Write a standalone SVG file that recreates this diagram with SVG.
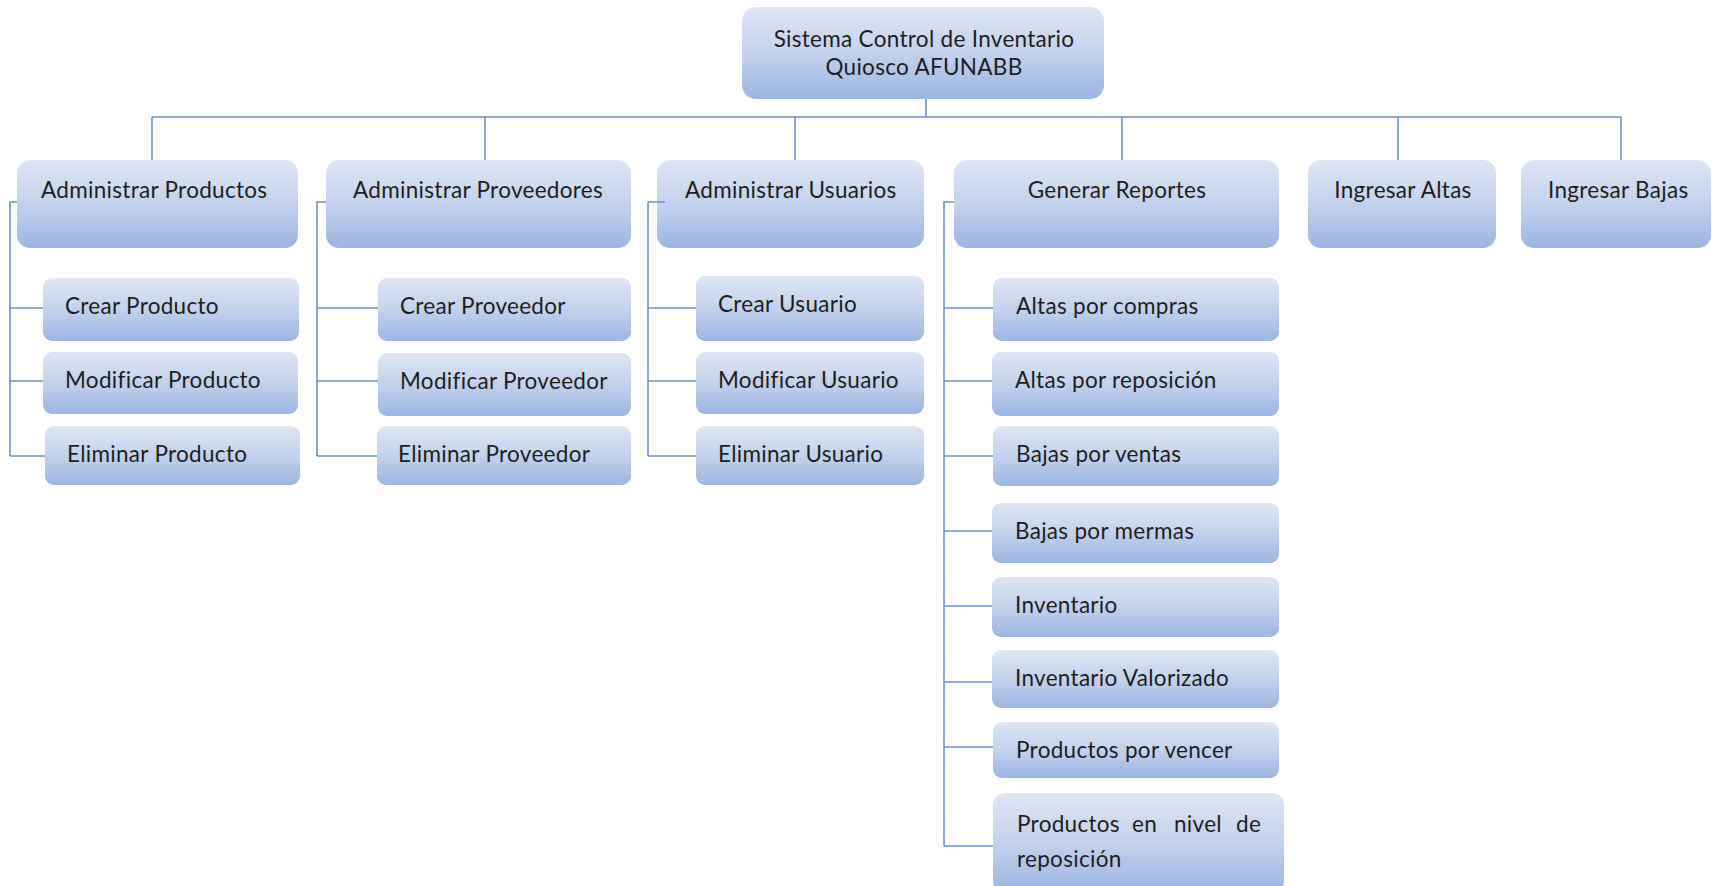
<svg xmlns="http://www.w3.org/2000/svg" width="1712" height="886" viewBox="0 0 1712 886">
<defs>
<linearGradient id="g" x1="0" y1="0" x2="0" y2="1">
<stop offset="0" stop-color="#dfe6f4"/>
<stop offset="0.5" stop-color="#c3d1ec"/>
<stop offset="1" stop-color="#9cb5e3"/>
</linearGradient>
</defs>
<style>
.b{fill:url(#g);}
.t{font-family:Lato,"Open Sans",sans-serif;font-size:22.5px;letter-spacing:0.3px;fill:#1e1e1e;}
.c{text-anchor:middle;}
.ln{fill:none;stroke:#6a92cf;stroke-width:1.6;}
</style>
<rect width="1712" height="886" fill="#fff"/>
<g id="connectors" class="ln">
<path d="M926 99V117M152 117H1621M152 117V160M485 117V160M795 117V160M1122 117V160M1398 117V160M1621 117V160"/>
<path d="M17 202H10V456M10 308H43M10 381H43M10 456H45"/>
<path d="M326 202H317V456M317 308H378M317 381H378M317 456H377"/>
<path d="M956 202H944V846M944 308H993M944 381H992M944 456H993M944 531H992M944 606H992M944 682H992M944 747H993M944 846H993"/>
</g>
<g id="root"><rect class="b" x="742" y="7" width="362" height="92" rx="14"/><text class="t c" x="924" y="47">Sistema Control de Inventario</text><text class="t c" x="924" y="75">Quiosco AFUNABB</text></g>
<g id="n-ap"><rect class="b" x="17" y="160" width="281" height="88" rx="13"/><text class="t" x="41" y="198">Administrar Productos</text></g>
<g id="n-apv"><rect class="b" x="326" y="160" width="305" height="88" rx="13"/><text class="t" x="353" y="198">Administrar Proveedores</text></g>
<g id="n-au"><rect class="b" x="657" y="160" width="267" height="88" rx="13"/><text class="t" x="685" y="198">Administrar Usuarios</text></g>
<g id="n-gr"><rect class="b" x="954" y="160" width="325" height="88" rx="13"/><text class="t c" x="1117" y="198">Generar Reportes</text></g>
<g id="n-ia"><rect class="b" x="1308" y="160" width="188" height="88" rx="13"/><text class="t c" x="1403" y="198">Ingresar Altas</text></g>
<g id="n-ib"><rect class="b" x="1521" y="160" width="190" height="88" rx="13"/><text class="t" x="1548" y="198">Ingresar Bajas</text></g>
<path class="ln" d="M648 202H665M648 202V456M648 308H696M648 381H696M648 456H696"/>
<g id="n-cp"><rect class="b" x="43" y="278" width="256" height="63" rx="9"/><text class="t" x="65" y="314">Crear Producto</text></g>
<g id="n-mp"><rect class="b" x="43" y="352" width="255" height="62" rx="9"/><text class="t" x="65" y="388">Modificar Producto</text></g>
<g id="n-ep"><rect class="b" x="45" y="426" width="255" height="59" rx="9"/><text class="t" x="67" y="462">Eliminar Producto</text></g>
<g id="n-cpv"><rect class="b" x="378" y="278" width="253" height="63" rx="9"/><text class="t" x="400" y="314">Crear Proveedor</text></g>
<g id="n-mpv"><rect class="b" x="378" y="353" width="253" height="63" rx="9"/><text class="t" x="400" y="389">Modificar Proveedor</text></g>
<g id="n-epv"><rect class="b" x="377" y="426" width="254" height="59" rx="9"/><text class="t" x="398" y="462">Eliminar Proveedor</text></g>
<g id="n-cu"><rect class="b" x="696" y="276" width="228" height="65" rx="9"/><text class="t" x="718" y="312">Crear Usuario</text></g>
<g id="n-mu"><rect class="b" x="696" y="352" width="228" height="62" rx="9"/><text class="t" x="718" y="388">Modificar Usuario</text></g>
<g id="n-eu"><rect class="b" x="696" y="426" width="228" height="59" rx="9"/><text class="t" x="718" y="462">Eliminar Usuario</text></g>
<g id="n-r1"><rect class="b" x="993" y="278" width="286" height="63" rx="9"/><text class="t" x="1016" y="314">Altas por compras</text></g>
<g id="n-r2"><rect class="b" x="992" y="352" width="287" height="64" rx="9"/><text class="t" x="1015" y="388">Altas por reposición</text></g>
<g id="n-r3"><rect class="b" x="993" y="426" width="286" height="60" rx="9"/><text class="t" x="1016" y="462">Bajas por ventas</text></g>
<g id="n-r4"><rect class="b" x="992" y="503" width="287" height="60" rx="9"/><text class="t" x="1015" y="539">Bajas por mermas</text></g>
<g id="n-r5"><rect class="b" x="992" y="577" width="287" height="60" rx="9"/><text class="t" x="1015" y="613">Inventario</text></g>
<g id="n-r6"><rect class="b" x="992" y="650" width="287" height="58" rx="9"/><text class="t" x="1015" y="686">Inventario Valorizado</text></g>
<g id="n-r7"><rect class="b" x="993" y="722" width="286" height="56" rx="9"/><text class="t" x="1016" y="758">Productos por vencer</text></g>
<g id="n-r8"><rect class="b" x="993" y="793" width="291" height="100" rx="12"/><text class="t" y="832"><tspan x="1017">Productos</tspan><tspan x="1132">en</tspan><tspan x="1174">nivel</tspan><tspan x="1236">de</tspan></text><text class="t" x="1017" y="867">reposición</text></g>
</svg>
